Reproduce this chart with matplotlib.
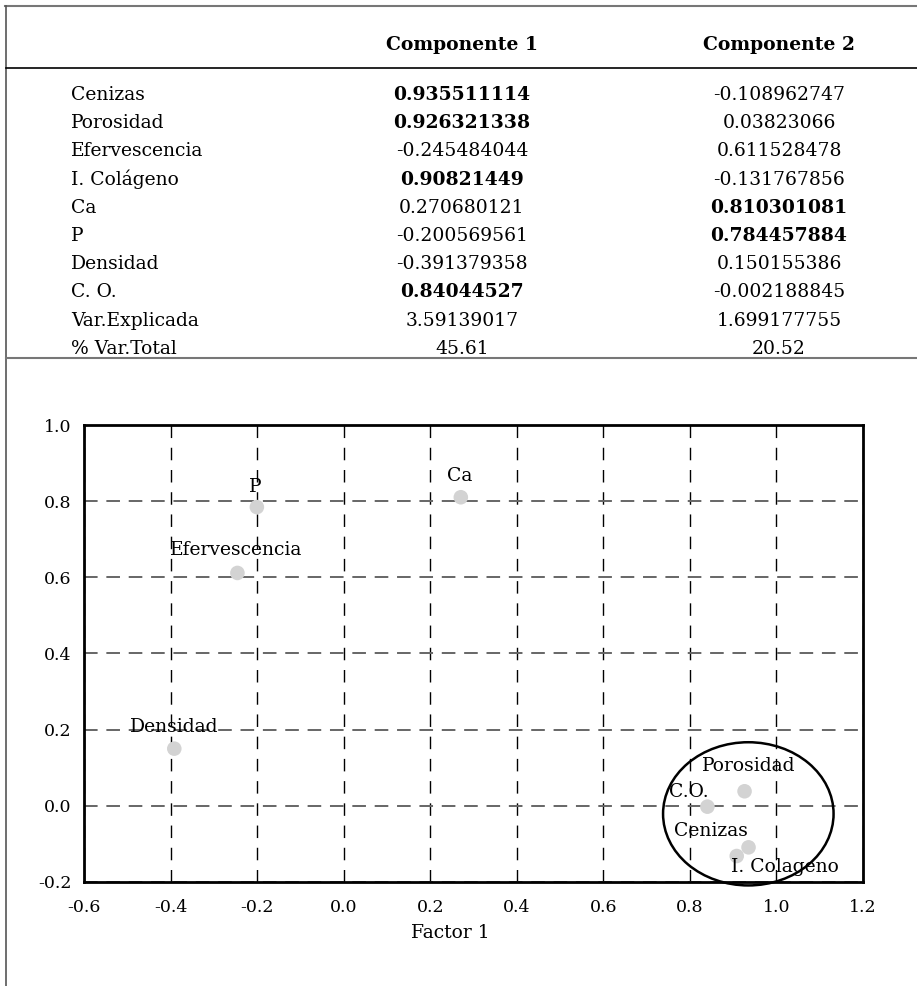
import matplotlib
matplotlib.use("Agg")
import matplotlib.pyplot as plt
from matplotlib.lines import Line2D
from matplotlib.patches import Ellipse

plt.rcParams['font.family'] = ['DejaVu Serif']

# ---- data ----
variables = ["Cenizas", "Porosidad", "Efervescencia", "I. Colágeno", "Ca", "P",
             "Densidad", "C. O."]
comp1 = [0.935511114, 0.926321338, -0.245484044, 0.90821449, 0.270680121,
         -0.200569561, -0.391379358, 0.84044527]
comp2 = [-0.108962747, 0.03823066, 0.611528478, -0.131767856, 0.810301081,
         0.784457884, 0.150155386, -0.002188845]
comp1_txt = ["0.935511114", "0.926321338", "-0.245484044", "0.90821449", "0.270680121",
             "-0.200569561", "-0.391379358", "0.84044527"]
comp2_txt = ["-0.108962747", "0.03823066", "0.611528478", "-0.131767856", "0.810301081",
             "0.784457884", "0.150155386", "-0.002188845"]
bold1 = [True, True, False, True, False, False, False, True]
bold2 = [False, False, False, False, True, True, False, False]
summary_rows = ["Var.Explicada", "% Var.Total"]
summary1 = ["3.59139017", "45.61"]
summary2 = ["1.699177755", "20.52"]
headers = ["Componente 1", "Componente 2"]

plot_labels = ["Cenizas", "Porosidad", "Efervescencia", "I. Colageno", "Ca", "P",
               "Densidad", "C.O."]
label_offsets = [(-38, 16), (4, 25), (-1, 23), (48, -11), (-1, 21), (-2, 20),
                 (0, 22), (-19, 15)]
xticks = [-0.6, -0.4, -0.2, 0.0, 0.2, 0.4, 0.6, 0.8, 1.0, 1.2]
yticks = [-0.2, 0.0, 0.2, 0.4, 0.6, 0.8, 1.0]

W, H = 917, 986
fig = plt.figure(figsize=(W / 100, H / 100), dpi=100)

def fx(px):
    return px / W

def fy(py):
    return 1 - py / H

# ---- frame lines ----
fig.add_artist(Line2D([fx(5), fx(917)], [fy(6), fy(6)], color='#777777', lw=1.5))
fig.add_artist(Line2D([fx(6), fx(6)], [fy(6), fy(986)], color='#555555', lw=1.2))
fig.add_artist(Line2D([fx(6), fx(917)], [fy(68), fy(68)], color='black', lw=1.2))
fig.add_artist(Line2D([fx(6), fx(917)], [fy(358), fy(358)], color='#777777', lw=1.5))

fs = 13.5
x_lab, x_c1, x_c2 = 71, 462, 779
fig.text(fx(x_c1), fy(45), headers[0], ha='center', va='center', fontsize=fs, fontweight='bold')
fig.text(fx(x_c2), fy(45), headers[1], ha='center', va='center', fontsize=fs, fontweight='bold')

row_y0, row_dy = 95, 28.2
for i, name in enumerate(variables):
    y = row_y0 + i * row_dy
    fig.text(fx(x_lab), fy(y), name, ha='left', va='center', fontsize=fs)
    fig.text(fx(x_c1), fy(y), comp1_txt[i], ha='center', va='center', fontsize=fs,
             fontweight='bold' if bold1[i] else 'normal')
    fig.text(fx(x_c2), fy(y), comp2_txt[i], ha='center', va='center', fontsize=fs,
             fontweight='bold' if bold2[i] else 'normal')
for j, name in enumerate(summary_rows):
    y = row_y0 + (len(variables) + j) * row_dy
    fig.text(fx(x_lab), fy(y), name, ha='left', va='center', fontsize=fs)
    fig.text(fx(x_c1), fy(y), summary1[j], ha='center', va='center', fontsize=fs)
    fig.text(fx(x_c2), fy(y), summary2[j], ha='center', va='center', fontsize=fs)

# ---- scatter plot ----
left, right, top, bottom = 84, 863, 425, 882
ax = fig.add_axes([fx(left), fy(bottom), fx(right) - fx(left), fy(top) - fy(bottom)])
ax.set_xlim(-0.6, 1.19)
ax.set_ylim(-0.2, 1.0)
ax.set_xticks(xticks)
ax.set_yticks(yticks)
ax.set_xticklabels([f"{v:.1f}" for v in xticks])
ax.set_yticklabels([f"{v:.1f}" for v in yticks])
ax.tick_params(length=0, labelsize=fs - 1, pad=12)
ax.tick_params(axis='y', pad=9)
for s in ax.spines.values():
    s.set_linewidth(2.0)
    s.set_color('black')
ax.set_axisbelow(True)
ax.xaxis.grid(True, color='black', lw=1.0, ls=(0, (9, 7)))
ax.yaxis.grid(True, color='#666666', lw=1.4, ls=(0, (7, 4.5)))

ax.scatter(comp1, comp2, s=110, color='#d3d3d3', zorder=3, edgecolors='none')
for x, y, lab, off in zip(comp1, comp2, plot_labels, label_offsets):
    ax.annotate(lab, (x, y), xytext=off, textcoords='offset pixels',
                ha='center', va='center', fontsize=fs, zorder=4)

ell = Ellipse((0.935, -0.021), 0.394, 0.376, fill=False, edgecolor='black',
              lw=1.8, clip_on=False, zorder=5)
ax.add_patch(ell)

fig.text(fx(450), fy(933), "Factor 1", ha='center', va='center', fontsize=fs)

fig.savefig("out.png", dpi=100)
